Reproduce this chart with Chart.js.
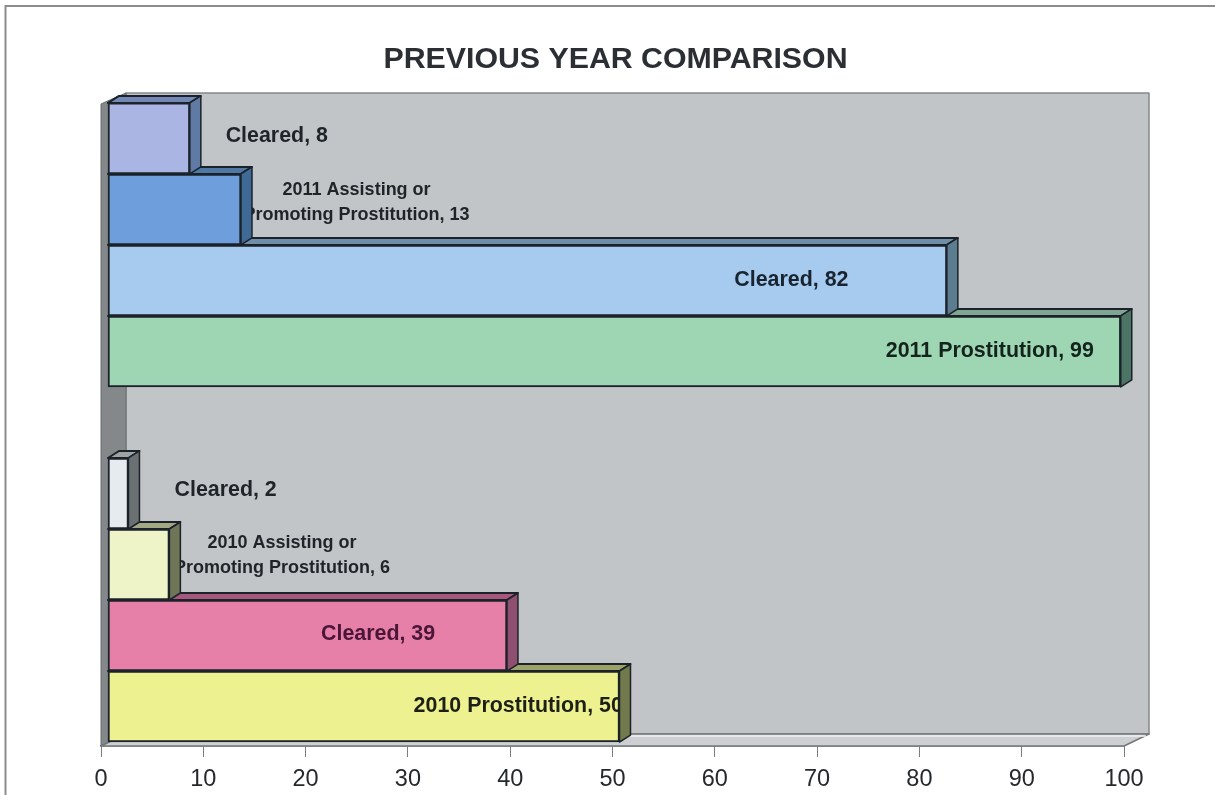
<!DOCTYPE html>
<html>
  <head>
    <title>Previous Year Comparison</title>
    <style>
      html, body { margin: 0; background: #fff; }
      canvas { display: block; }
    </style>
  </head>
  <body>
    <canvas id="canvas" width="1215" height="795"></canvas>
    <script src="https://cdn.jsdelivr.net/npm/chart.js@4"></script>
    <script>
      // rows run bottom to top, the null row is the gap between the two years
      const barNames = [
        '2010 Prostitution',
        'Cleared',
        '2010 Assisting or\nPromoting Prostitution',
        'Cleared',
        null,
        '2011 Prostitution',
        'Cleared',
        '2011 Assisting or\nPromoting Prostitution',
        'Cleared',
      ];
      const barValues = [50, 39, 6, 2, null, 99, 82, 13, 8];
      const tickMax = 100;

      const frontColors = ['#edf18f', '#e680a9', '#eff4c8', '#e6ebef', null, '#9ed6b4', '#a6cbef', '#6e9fdc', '#aab5e3'];
      const topColors = ['#9ca268', '#a8577c', '#a3a884', '#9ea3a6', null, '#7fa593', '#6f8fa8', '#4f78a5', '#7488b5'];
      const sideColors = ['#72794c', '#8f4f6e', '#6f7557', '#6b7073', null, '#4d7565', '#5c7c90', '#3f6a96', '#5e7aa5'];
      const labelColors = ['#1d2018', '#4a1638', '#1f2428', '#1f2428', null, '#14241c', '#1a2430', '#1f2428', '#1f2428'];

      // where the labels sit: centre in axis units, shift in px from the bar middle
      const labelCentres = [40.1, 26.4, 17, 11.5, null, 86.2, 66.8, 24.3, 16.5];
      const labelShifts = [0, -1, -9, -3, null, 0, 0, -7, -2];
      const labelFonts = [21.4, 21.4, 18, 21.4, null, 21.4, 21.4, 18, 21.4];

      const depth = { x: 25, y: 12 }; // plot box
      const barDepth = { x: 11, y: 7 };
      const edge = '#1b2229';

      function poly(ctx, pts, fill, stroke, lw) {
        ctx.beginPath();
        pts.forEach((p, i) => (i ? ctx.lineTo(p[0], p[1]) : ctx.moveTo(p[0], p[1])));
        ctx.closePath();
        if (fill) {
          ctx.fillStyle = fill;
          ctx.fill();
        }
        if (stroke) {
          ctx.strokeStyle = stroke;
          ctx.lineWidth = lw || 1;
          ctx.lineJoin = 'round';
          ctx.stroke();
        }
      }

      const scenePlugin = {
        id: 'scene',
        afterLayout(chart) {
          // the title sits a little right of the plot centre
          chart.titleBlock.left += 3;
          chart.titleBlock.right += 3;
        },
        beforeDraw(chart) {
          const ctx = chart.ctx;
          ctx.save();
          ctx.strokeStyle = '#8c8c8c';
          ctx.lineWidth = 2;
          ctx.beginPath();
          ctx.moveTo(5.5, 795);
          ctx.lineTo(5.5, 6);
          ctx.lineTo(1215, 6);
          ctx.stroke();
          ctx.restore();
        },
        beforeDatasetsDraw(chart) {
          const ctx = chart.ctx;
          const { left, right, top, bottom } = chart.chartArea;
          const backL = left + depth.x;
          const backR = right + depth.x;
          const backT = top - depth.y + 2;
          const backB = bottom - depth.y;
          ctx.save();
          poly(ctx, [[backL, backT], [backR, backT], [backR, backB], [backL, backB]], '#c1c5c8', '#85888a', 1.5);
          poly(ctx, [[left, top + 1], [backL, backT], [backL, backB], [left, bottom]], '#85888a', '#6a6d6f', 1);
          poly(ctx, [[left, bottom], [backL, backB], [backR, backB], [right, bottom]], '#cdd0d2', '#74777a', 1.5);
          ctx.strokeStyle = '#eef0f1';
          ctx.lineWidth = 1.5;
          ctx.beginPath();
          ctx.moveTo(backL, backB + 2);
          ctx.lineTo(backR - 3, backB + 2);
          ctx.stroke();

          // top faces go under the fronts of the row above
          chart.getDatasetMeta(0).data.forEach((bar, i) => {
            if (barValues[i] === null) return;
            const t = bar.y - bar.height / 2;
            poly(ctx, [
              [bar.base, t],
              [bar.base + barDepth.x, t - barDepth.y],
              [bar.x + barDepth.x, t - barDepth.y],
              [bar.x, t],
            ], topColors[i], edge, 2);
          });
          ctx.restore();
        },
        afterDatasetsDraw(chart) {
          const ctx = chart.ctx;
          const bars = chart.getDatasetMeta(0).data;
          const scale = chart.scales.xBars;
          ctx.save();
          ctx.textAlign = 'center';
          ctx.textBaseline = 'middle';
          bars.forEach((bar, i) => {
            if (barValues[i] === null) return;
            const lines = (barNames[i] + ', ' + barValues[i]).split('\n');
            const size = labelFonts[i];
            const lh = size * 1.38;
            const cx = scale.getPixelForValue(labelCentres[i]);
            const cy = bar.y + labelShifts[i];
            ctx.font = 'bold ' + size + 'px "Liberation Sans", Arial, sans-serif';
            ctx.fillStyle = labelColors[i];
            lines.forEach((line, n) => {
              ctx.fillText(line, cx, cy + (n - (lines.length - 1) / 2) * lh);
            });
          });
          // side faces cover the ends of labels that run into them
          bars.forEach((bar, i) => {
            if (barValues[i] === null) return;
            const t = bar.y - bar.height / 2;
            const b = bar.y + bar.height / 2;
            poly(ctx, [
              [bar.x, t],
              [bar.x + barDepth.x, t - barDepth.y],
              [bar.x + barDepth.x, b - barDepth.y],
              [bar.x, b],
            ], sideColors[i], edge, 1.5);
          });
          ctx.restore();
        },
      };

      new Chart(document.getElementById('canvas').getContext('2d'), {
        type: 'bar',
        plugins: [scenePlugin],
        data: {
          datasets: [
            {
              xAxisID: 'xBars',
              yAxisID: 'y',
              data: barValues.map((v, i) => ({ x: v, y: i })),
              backgroundColor: frontColors,
              borderColor: edge,
              borderWidth: 2,
              borderSkipped: false,
              categoryPercentage: 1,
              barPercentage: 1,
            },
          ],
        },
        options: {
          indexAxis: 'y',
          responsive: false,
          animation: false,
          layout: { padding: { left: 101, right: 91, top: 0, bottom: 0 } },
          plugins: {
            legend: { display: false },
            tooltip: { enabled: false },
            title: {
              display: true,
              text: 'PREVIOUS YEAR COMPARISON',
              color: '#2b2f33',
              font: { family: '"Liberation Sans", Arial, sans-serif', size: 30.3, weight: 'bold', lineHeight: 1.5 },
              padding: { top: 37, bottom: 20.5 },
            },
          },
          scales: {
            x: {
              position: 'bottom',
              min: 0,
              max: tickMax,
              afterFit: (s) => { s.height = 49; },
              border: { color: '#5f6265', width: 1.5 },
              grid: { drawOnChartArea: false, tickLength: 11, tickColor: '#7a7d80' },
              ticks: {
                stepSize: 10,
                maxRotation: 0,
                padding: 8,
                color: '#26292c',
                font: { family: '"Liberation Sans", Arial, sans-serif', size: 23.5 },
              },
            },
            // same pixel scale as x, but the bars stand 7px inside the box
            xBars: { type: 'linear', position: 'bottom', display: false, min: -0.684, max: 99.316 },
            y: {
              type: 'linear',
              display: false,
              offset: false,
              min: -0.556,
              max: 8.5,
              grid: { offset: false },
              ticks: { stepSize: 1, includeBounds: false },
            },
          },
        },
      });
    </script>
  </body>
</html>
